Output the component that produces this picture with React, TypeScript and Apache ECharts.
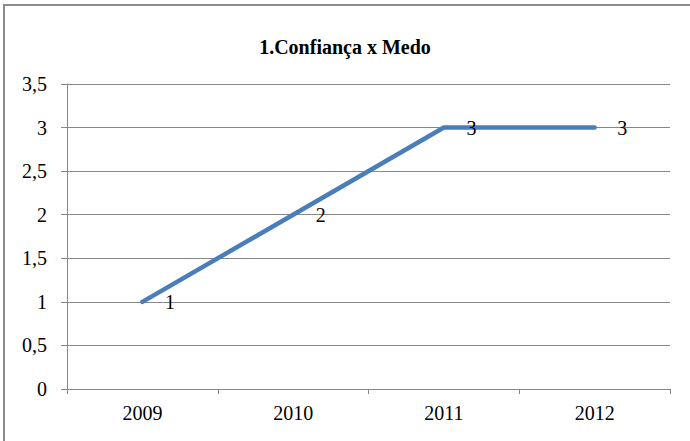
import React, { useEffect, useRef } from "react";
import * as echarts from "echarts";

const categories = ["2009", "2010", "2011", "2012"];
const values = [1, 2, 3, 3];
const titleText = "1.Confiança x Medo";

const FONT = "'Liberation Serif', 'Times New Roman', serif";
const GRID_COLOR = "#878787";

export default function App() {
  const ref = useRef<HTMLDivElement>(null);
  useEffect(() => {
    if (!ref.current) return;
    const chart = echarts.init(ref.current, undefined, { renderer: "svg" });
    chart.setOption({
      animation: false,
      backgroundColor: "#ffffff",
      title: {
        text: titleText,
        left: "center",
        top: 32,
        textStyle: { fontFamily: FONT, fontSize: 20, fontWeight: "bold", color: "#000" },
      },
      graphic: [
        {
          type: "rect",
          shape: { x: 4, y: 5, width: 720, height: 480 },
          style: { fill: "none", stroke: "#8c8c8c", lineWidth: 2 },
          silent: true,
        },
      ],
      grid: { left: 67, right: 20, top: 84, bottom: 52, containLabel: false },
      xAxis: {
        type: "category",
        data: categories,
        boundaryGap: true,
        axisLine: { show: true, lineStyle: { color: GRID_COLOR, width: 1 } },
        axisTick: { show: true, length: 5, alignWithLabel: false, lineStyle: { color: GRID_COLOR } },
        axisLabel: { fontFamily: FONT, fontSize: 20, color: "#000", margin: 14 },
        splitLine: { show: false },
      },
      yAxis: {
        type: "value",
        min: 0,
        max: 3.5,
        interval: 0.5,
        axisLine: { show: true, lineStyle: { color: GRID_COLOR, width: 1 } },
        axisTick: { show: true, length: 6, lineStyle: { color: GRID_COLOR } },
        axisLabel: {
          fontFamily: FONT,
          fontSize: 20,
          color: "#000",
          margin: 20,
          formatter: (v: number) => String(v).replace(".", ","),
        },
        splitLine: { show: true, lineStyle: { color: GRID_COLOR, width: 1 } },
      },
      series: [
        {
          type: "line",
          data: values,
          symbol: "circle",
          symbolSize: 1,
          itemStyle: { color: "rgba(74,126,187,0)" },
          lineStyle: { color: "#4A7EBB", width: 4.5, cap: "round", join: "round" },
          label: {
            show: true,
            position: "right",
            distance: 22,
            fontFamily: FONT,
            fontSize: 20,
            color: "#000",
          },
        },
      ],
    });
    return () => chart.dispose();
  }, []);
  return (
    <div
      ref={ref}
      style={{ position: "fixed", left: 0, top: 0, width: 690, height: 441 }}
    />
  );
}
